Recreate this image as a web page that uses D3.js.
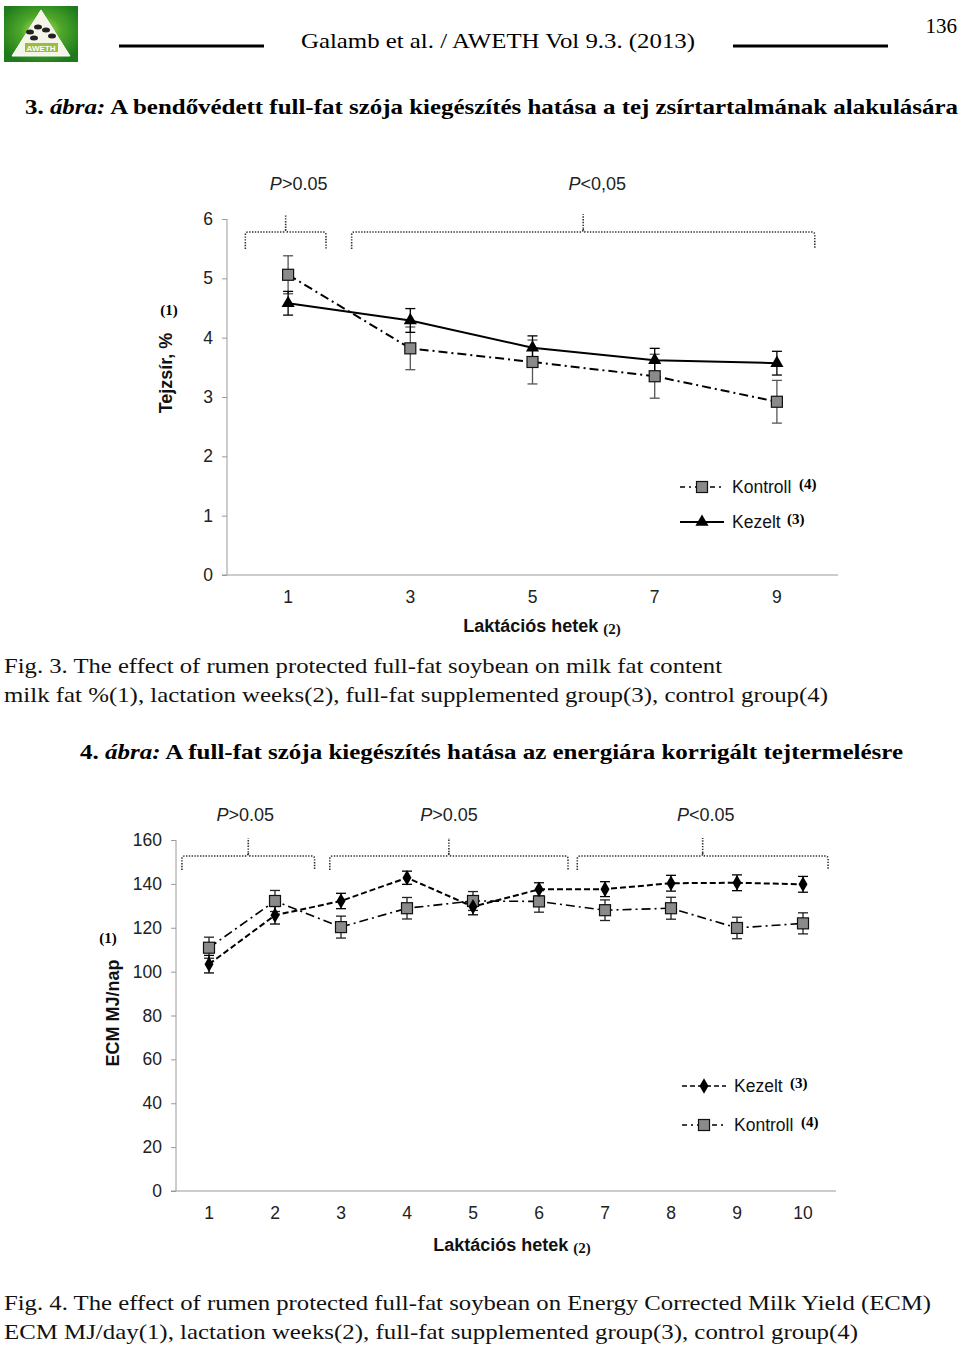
<!DOCTYPE html>
<html><head><meta charset="utf-8">
<script src="https://cdn.jsdelivr.net/npm/d3@7"></script>
<style>body{margin:0;background:#fff}svg{display:block}</style>
</head><body>
<script>
// ---------- DATA ----------
const weeks1 = ["1","3","5","7","9"];
const kontroll1 = [5.06, 3.82, 3.59, 3.35, 2.92];
const kontroll1Err = [0.32, 0.36, 0.37, 0.37, 0.36];
const kezelt1 = [4.58, 4.29, 3.83, 3.62, 3.57];
const kezelt1Err = [0.2, 0.2, 0.2, 0.2, 0.2];
const yTicks1 = [0,1,2,3,4,5,6];
const pLabels1 = ["P>0.05","P<0,05"];
const braceSpan1 = [[-0.35,0.31],[0.52,4.31]];

const weeks2 = ["1","2","3","4","5","6","7","8","9","10"];
const kezelt2 = [103.4,125.7,132.2,142.8,129.6,137.5,137.6,140.3,140.5,139.8];
const kezelt2Err = [4,4,3.5,3,3.7,3,3.4,3.6,3.6,3.6];
const kontroll2 = [110.9,132.2,120.3,128.9,132.2,132.0,128.0,128.9,119.9,122.0];
const kontroll2Err = [4.8,4.8,5,4.9,4.3,4.9,4.7,5,4.9,4.8];
const yTicks2 = [0,20,40,60,80,100,120,140,160];
const pLabels2 = ["P>0.05","P>0.05","P<0.05"];
const braceSpan2 = [[-0.41,1.6],[1.83,5.44],[5.58,9.38]];

// ---------- PAGE ----------
const W=960,H=1346;
const svg=d3.select("body").append("svg").attr("width",W).attr("height",H);
const serif="'Liberation Serif','Times New Roman',serif";
const sans="'Liberation Sans',Arial,sans-serif";
const fs=17.5;

// logo
const g0=svg.append("g");
const grad=svg.append("defs").append("radialGradient").attr("id","lg").attr("cx","50%").attr("cy","45%").attr("r","60%");
grad.append("stop").attr("offset","0%").attr("stop-color","#d8f070");
grad.append("stop").attr("offset","45%").attr("stop-color","#4fa82a");
grad.append("stop").attr("offset","100%").attr("stop-color","#1e7a1c");
g0.append("rect").attr("x",4).attr("y",6).attr("width",74).attr("height",56).attr("fill","url(#lg)");
g0.append("path").attr("d","M41,10 L70,56 L12,56 Z").attr("fill","#f4f4e8").attr("stroke","#fff");
g0.append("rect").attr("x",25).attr("y",43).attr("width",33).attr("height",9).attr("fill","#9bbd3a");
g0.append("text").attr("x",41).attr("y",51).attr("text-anchor","middle").attr("font-family",sans).attr("font-size",8).attr("font-weight","bold").attr("fill","#fff").text("AWETH");
[[30,32],[38,27],[46,30],[52,36],[34,38]].forEach(p=>g0.append("ellipse").attr("cx",p[0]).attr("cy",p[1]).attr("rx",4).attr("ry",2.5).attr("fill","#222"));

svg.append("line").attr("x1",119).attr("x2",264).attr("y1",46).attr("y2",46).attr("stroke","#000").attr("stroke-width",3);
svg.append("line").attr("x1",733).attr("x2",888).attr("y1",46).attr("y2",46).attr("stroke","#000").attr("stroke-width",3);
svg.append("text").attr("x",301).attr("y",48).attr("font-family",serif).attr("font-size",22).attr("textLength",394).attr("lengthAdjust","spacingAndGlyphs").text("Galamb et al. / AWETH Vol 9.3. (2013)");
svg.append("text").attr("x",957).attr("y",33).attr("text-anchor","end").attr("font-family",serif).attr("font-size",21).text("136");

function title(x,y,len,num,rest){
  const t=svg.append("text").attr("x",x).attr("y",y).attr("font-family",serif).attr("font-size",21).attr("font-weight","bold").attr("textLength",len).attr("lengthAdjust","spacingAndGlyphs");
  t.append("tspan").text(num+" ");
  t.append("tspan").attr("font-style","italic").text("ábra:");
  t.append("tspan").text(" "+rest);
}
title(25,114,933,"3.","A bendővédett full-fat szója kiegészítés hatása a tej zsírtartalmának alakulására");
title(80,759,823,"4.","A full-fat szója kiegészítés hatása az energiára korrigált tejtermelésre");

function caption(x,y,len,txt){
  svg.append("text").attr("x",x).attr("y",y).attr("font-family",serif).attr("font-size",21).attr("textLength",len).attr("lengthAdjust","spacingAndGlyphs").attr("fill","#111").text(txt);
}
caption(4,673,718,"Fig. 3. The effect of rumen protected full-fat soybean on milk fat content");
caption(4,702,824,"milk fat %(1), lactation weeks(2), full-fat supplemented group(3), control group(4)");
caption(4,1310,927,"Fig. 4. The effect of rumen protected full-fat soybean on Energy Corrected Milk Yield (ECM)");
caption(4,1339,854,"ECM MJ/day(1), lactation weeks(2), full-fat supplemented group(3), control group(4)");

// ---------- helpers ----------
const axisCol="#9a9a9a", tickTxt="#222";
function drawAxes(x,y,yTicks,x0,x1,y0,y1,labelOff){
  const ga=svg.append("g").attr("transform",`translate(${x0},0)`)
    .call(d3.axisLeft(y).tickValues(yTicks).tickSize(5).tickPadding(labelOff).tickFormat(d3.format("d")));
  ga.select(".domain").attr("stroke",axisCol).attr("d",`M-5,${y(yTicks[0])}H0V${y1}`);
  ga.selectAll(".tick line").attr("stroke",axisCol);
  ga.selectAll(".tick text").attr("font-family",sans).attr("font-size",fs).attr("fill",tickTxt);
  const gx=svg.append("g").attr("transform",`translate(0,${y0})`)
    .call(d3.axisBottom(x).tickSize(0).tickPadding(16));
  gx.select(".domain").attr("stroke",axisCol).attr("d",`M${x0},0H${x1}`);
  gx.selectAll(".tick text").attr("font-family",sans).attr("font-size",fs).attr("fill",tickTxt);
}
function errBars(x,y,cats,vals,errs,col){
  const g=svg.append("g").attr("stroke",col).attr("stroke-width",1.3).attr("fill","none");
  cats.forEach((c,i)=>{
    const cx=x(c)+x.bandwidth()/2, yt=y(vals[i]+errs[i]), yb=y(vals[i]-errs[i]);
    g.append("line").attr("x1",cx).attr("x2",cx).attr("y1",yt).attr("y2",yb);
    g.append("line").attr("x1",cx-5).attr("x2",cx+5).attr("y1",yt).attr("y2",yt);
    g.append("line").attr("x1",cx-5).attr("x2",cx+5).attr("y1",yb).attr("y2",yb);
  });
}
function seriesLine(x,y,cats,vals,dash,w){
  const line=d3.line().x((d,i)=>x(cats[i])+x.bandwidth()/2).y(d=>y(d));
  svg.append("path").datum(vals).attr("d",line).attr("fill","none").attr("stroke","#000").attr("stroke-width",w).attr("stroke-dasharray",dash);
}
function marker(type,cx,cy){
  if(type==="square") svg.append("rect").attr("x",cx-5.5).attr("y",cy-5.5).attr("width",11).attr("height",11).attr("fill","#8a8a8a").attr("stroke","#111").attr("stroke-width",1.2);
  else if(type==="triangle") svg.append("path").attr("d",d3.symbol(d3.symbolTriangle,75)()).attr("transform",`translate(${cx},${cy})`).attr("fill","#000");
  else svg.append("path").attr("d",d3.symbol(d3.symbolDiamond,70)()).attr("transform",`translate(${cx},${cy})`).attr("fill","#000");
}
function markers(x,y,cats,vals,type){
  cats.forEach((c,i)=>marker(type,x(c)+x.bandwidth()/2,y(vals[i])));
}
function braces(xi,spans,labels,yh,yb,yt,ly,lshift){
  spans.forEach((s,i)=>{
    const a=xi(s[0]), b=xi(s[1]), m=(a+b)/2;
    const p=`M${a},${yb}V${yh+3}Q${a},${yh} ${a+3},${yh}H${m-3}Q${m},${yh} ${m},${yh-3}V${yt}M${m},${yh-3}Q${m},${yh} ${m+3},${yh}H${b-3}Q${b},${yh} ${b},${yh+3}V${yb}`;
    svg.append("path").attr("d",p).attr("fill","none").attr("stroke","#333").attr("stroke-width",1.6).attr("stroke-dasharray","1.4,1.4");
    const t=svg.append("text").attr("x",m+lshift[i]).attr("y",ly).attr("text-anchor","middle").attr("font-family",sans).attr("font-size",18).attr("fill","#222");
    t.append("tspan").attr("font-style","italic").text(labels[i][0]);
    t.append("tspan").text(labels[i].slice(1));
  });
}
function legendItem(x0,y0,dash,w,type,label,num,numOff){
  svg.append("line").attr("x1",x0).attr("x2",x0+44).attr("y1",y0).attr("y2",y0).attr("stroke","#000").attr("stroke-width",w).attr("stroke-dasharray",dash);
  marker(type,x0+22,y0);
  svg.append("text").attr("x",x0+52).attr("y",y0+6).attr("font-family",sans).attr("font-size",fs).attr("fill","#111").text(label);
  svg.append("text").attr("x",x0+52+numOff).attr("y",y0+2).attr("font-family",serif).attr("font-weight","bold").attr("font-size",15).text(num);
}
function axisTitle(cx,cy,label,num){
  const t=svg.append("text").attr("x",cx).attr("y",cy).attr("text-anchor","middle").attr("font-family",sans).attr("font-size",18).attr("font-weight","bold").attr("fill","#111");
  t.append("tspan").text(label+" ");
  t.append("tspan").attr("font-family",serif).attr("font-size",15).attr("dy",2).text(num);
}

// ---------- CHART 1 ----------
{
  const x0=227,x1=838,y0=575,yTop=219;
  const x=d3.scaleBand().domain(weeks1).range([x0,x1]);
  const y=d3.scaleLinear().domain([0,6]).range([y0,yTop]);
  const xi=d3.scaleLinear().domain([0,1]).range([x(weeks1[0])+x.bandwidth()/2,x(weeks1[1])+x.bandwidth()/2]);
  drawAxes(x,y,yTicks1,x0,x1,y0,yTop,9);
  braces(xi,braceSpan1,pLabels1,232,249,214,190,[13,14]);
  errBars(x,y,weeks1,kontroll1,kontroll1Err,"#555");
  errBars(x,y,weeks1,kezelt1,kezelt1Err,"#000");
  seriesLine(x,y,weeks1,kontroll1,"9,4,2,4",2);
  seriesLine(x,y,weeks1,kezelt1,null,2);
  markers(x,y,weeks1,kontroll1,"square");
  markers(x,y,weeks1,kezelt1,"triangle");
  legendItem(680,487,"5,4,2,4",1.5,"square","Kontroll","(4)",67);
  legendItem(680,522,null,2,"triangle","Kezelt","(3)",55);
  axisTitle(542,632,"Laktációs hetek","(2)");
  svg.append("text").attr("transform","translate(172,373) rotate(-90)").attr("text-anchor","middle").attr("font-family",sans).attr("font-size",18).attr("font-weight","bold").attr("fill","#111").text("Tejzsír, %");
  svg.append("text").attr("x",169).attr("y",315).attr("text-anchor","middle").attr("font-family",serif).attr("font-weight","bold").attr("font-size",15).text("(1)");
}

// ---------- CHART 2 ----------
{
  const x0=176,x1=836,y0=1191,yTop=840;
  const x=d3.scaleBand().domain(weeks2).range([x0,x1]);
  const y=d3.scaleLinear().domain([0,160]).range([y0,yTop]);
  const xi=d3.scaleLinear().domain([0,1]).range([x(weeks2[0])+x.bandwidth()/2,x(weeks2[1])+x.bandwidth()/2]);
  drawAxes(x,y,yTicks2,x0,x1,y0,yTop,9);
  braces(xi,braceSpan2,pLabels2,856,870,838,821,[-3,0,3]);
  errBars(x,y,weeks2,kontroll2,kontroll2Err,"#222");
  errBars(x,y,weeks2,kezelt2,kezelt2Err,"#000");
  seriesLine(x,y,weeks2,kontroll2,"9,4,2,4",1.6);
  seriesLine(x,y,weeks2,kezelt2,"6,3",2);
  markers(x,y,weeks2,kontroll2,"square");
  markers(x,y,weeks2,kezelt2,"diamond");
  legendItem(682,1086,"5,3",1.5,"diamond","Kezelt","(3)",56);
  legendItem(682,1125,"5,4,2,4",1.5,"square","Kontroll","(4)",67);
  axisTitle(512,1251,"Laktációs hetek","(2)");
  svg.append("text").attr("transform","translate(119,1013) rotate(-90)").attr("text-anchor","middle").attr("font-family",sans).attr("font-size",18).attr("font-weight","bold").attr("fill","#111").text("ECM MJ/nap");
  svg.append("text").attr("x",108).attr("y",943).attr("text-anchor","middle").attr("font-family",serif).attr("font-weight","bold").attr("font-size",15).text("(1)");
}
</script>
</body></html>
